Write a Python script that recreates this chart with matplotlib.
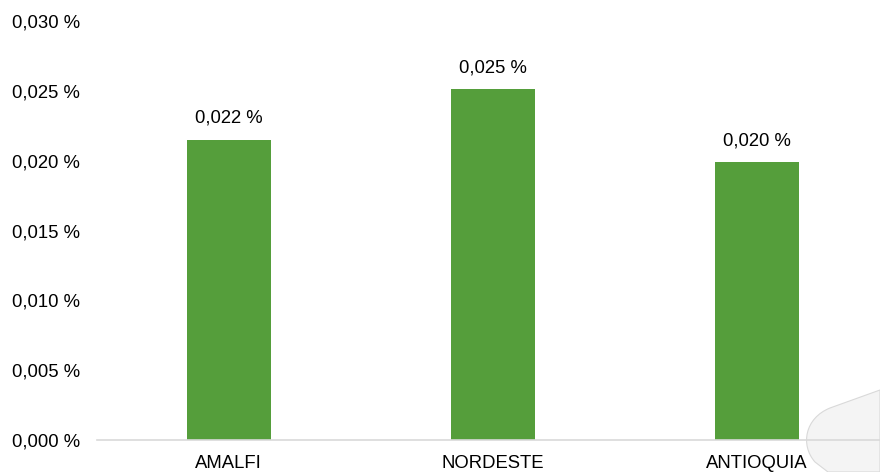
import matplotlib.pyplot as plt
from matplotlib.patches import PathPatch
from matplotlib.path import Path
from matplotlib.ticker import FuncFormatter

categories = ['AMALFI', 'NORDESTE', 'ANTIOQUIA']
values = [0.0215, 0.0251, 0.0199]
labels = ['0,022 %', '0,025 %', '0,020 %']
yticks = [0.000, 0.005, 0.010, 0.015, 0.020, 0.025, 0.030]

plt.rcParams['font.family'] = ['Liberation Sans', 'DejaVu Sans']
fs = 13.3

fig = plt.figure(figsize=(8.8, 4.72), dpi=100)
ax = fig.add_axes([0.110, 0.0678, 0.890, 0.8877])
ax.set_facecolor('none')

x = range(len(categories))
bars = ax.bar(x, values, width=0.318, color='#559e3b', zorder=2)
for b, lab in zip(bars, labels):
    ax.annotate(lab, (b.get_x() + b.get_width() / 2, b.get_height()),
                xytext=(0, 15.5), textcoords='offset points',
                ha='center', va='center', fontsize=fs, color='#000000')

ax.set_xlim(-0.5, 2.466)
ax.set_ylim(0, 0.030)
ax.set_yticks(yticks)
ax.yaxis.set_major_formatter(FuncFormatter(lambda v, p: f'{v:.3f} %'.replace('.', ',')))
ax.set_xticks(list(x))
ax.set_xticklabels(categories)
ax.tick_params(axis='both', length=0, labelsize=fs, colors='#000000')
ax.tick_params(axis='y', pad=12)
ax.tick_params(axis='x', pad=10.5)

for s in ['top', 'right', 'left']:
    ax.spines[s].set_visible(False)
ax.spines['bottom'].set_color('#d9d9d9')
ax.spines['bottom'].set_linewidth(1.2)

# faint overlay shape in the bottom right corner (pixel coords, y from top)
px = [(880, 390), (830, 408), (805, 418), (800, 445), (815, 462), (828, 472), (880, 472), (880, 390)]
codes = [Path.MOVETO, Path.LINETO, Path.CURVE4, Path.CURVE4, Path.CURVE4,
         Path.LINETO, Path.LINETO, Path.CLOSEPOLY]
verts = [(a / 880, 1 - b / 472) for a, b in px]
shape = PathPatch(Path(verts, codes), transform=fig.transFigure, facecolor='#f4f4f4',
                  edgecolor='#d9d9d9', linewidth=0.8, zorder=-1)
fig.patches.append(shape)

fig.savefig('out.png', dpi=100)
